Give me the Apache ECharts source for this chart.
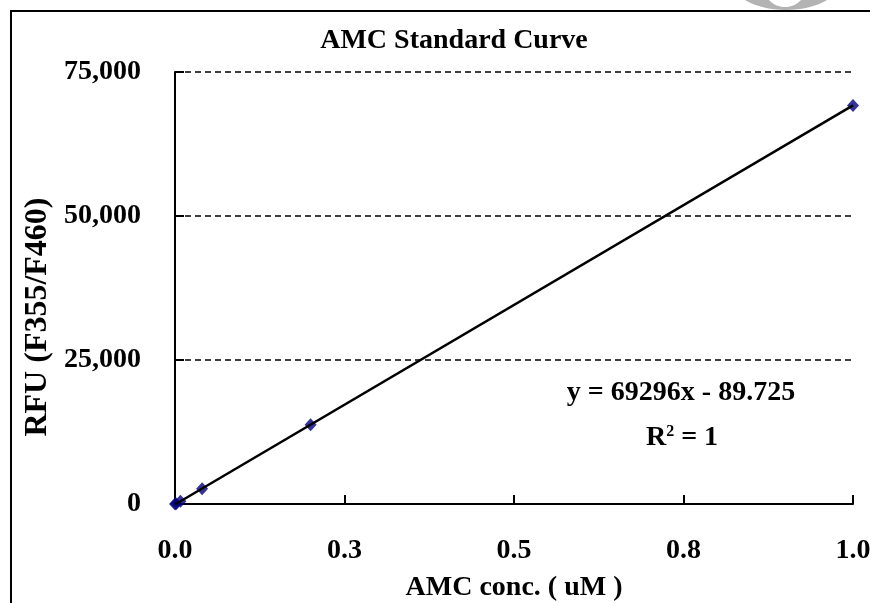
<!DOCTYPE html>
<html>
<head>
<meta charset="utf-8">
<title>AMC Standard Curve</title>
<script src="https://cdn.jsdelivr.net/npm/echarts@6/dist/echarts.min.js"></script>
<style>
  html, body { margin: 0; padding: 0; background: #fff; }
  #chart { width: 870px; height: 603px; }
</style>
</head>
<body>
<div id="chart"></div>
<script>
// standard points
const concentrations = [0, 0.0016, 0.008, 0.04, 0.2, 1.0];
const rfu = [0, 40, 470, 2650, 13750, 69200];
// linear trendline ends: y = 69296x - 89.725
const trendX = [0, 1.0];
const trendY = [-90, 69206];
const xTickLabels = ['0.0', '0.3', '0.5', '0.8', '1.0'];
const yTickLabels = ['0', '25,000', '50,000', '75,000'];

const font = 'Liberation Serif, Times New Roman, serif';
const chart = echarts.init(document.getElementById('chart'));

const option = {
    backgroundColor: '#fff',
    animation: false,
    title: {
        text: 'AMC Standard Curve',
        left: 449,
        top: 22,
        textAlign: 'center',
        textStyle: { fontFamily: font, fontSize: 28, fontWeight: 'bold', color: '#000' }
    },
    grid: { left: 175, right: 17, top: 72, bottom: 99, containLabel: false, outerBoundsMode: 'none' },
    xAxis: {
        type: 'value',
        min: 0,
        max: 1,
        interval: 0.25,
        name: 'AMC conc. ( uM )',
        nameLocation: 'middle',
        nameGap: 70,
        nameTextStyle: { fontFamily: font, fontSize: 28, fontWeight: 'bold', color: '#000' },
        axisLine: { onZero: false, lineStyle: { color: '#000', width: 2 } },
        axisTick: { inside: true, length: 9, lineStyle: { color: '#000', width: 2 } },
        axisLabel: {
            margin: 33,
            fontFamily: font, fontSize: 28, fontWeight: 'bold', color: '#000',
            formatter: v => xTickLabels[Math.round(v / 0.25)]
        },
        splitLine: { show: false }
    },
    yAxis: {
        type: 'value',
        min: 0,
        max: 75000,
        interval: 25000,
        axisLine: { show: true, lineStyle: { color: '#000', width: 2 } },
        axisTick: { show: true, inside: true, length: 9, lineStyle: { color: '#000', width: 2 } },
        axisLabel: {
            margin: 34,
            fontFamily: font, fontSize: 28, fontWeight: 'bold', color: '#000',
            formatter: v => yTickLabels[Math.round(v / 25000)]
        },
        splitLine: { show: true, lineStyle: { color: '#000', width: 1.5, type: [6, 4] } }
    },
    series: [
        {
            name: 'RFU',
            type: 'scatter',
            symbol: 'diamond',
            symbolSize: [12, 13],
            itemStyle: { color: '#000080' },
            data: concentrations.map((c, i) => [c, rfu[i]]),
            z: 3
        },
        {
            name: 'Linear',
            type: 'line',
            showSymbol: false,
            lineStyle: { color: '#000', width: 2.5 },
            data: trendX.map((x, i) => [x, trendY[i]]),
            z: 4
        }
    ],
    graphic: [
        { type: 'ellipse', shape: { cx: 786, cy: -20, rx: 55, ry: 30 }, style: { fill: '#b3b3b3' }, z: 1 },
        { type: 'ellipse', shape: { cx: 785, cy: -20, rx: 24, ry: 27 }, style: { fill: '#fff' }, z: 2 },
        { type: 'rect', shape: { x: 11, y: 11, width: 900, height: 700 }, style: { fill: 'none', stroke: '#000', lineWidth: 2 }, z: 3 },
        {
            type: 'text', x: 38, y: 317, rotation: Math.PI / 2,
            style: { text: 'RFU (F355/F460)', font: 'bold 32px ' + font, fill: '#000', textAlign: 'center', textVerticalAlign: 'middle' }
        },
        {
            type: 'text', x: 681, y: 393,
            style: { text: 'y = 69296x - 89.725', font: 'bold 28px ' + font, fill: '#000', textAlign: 'center', textVerticalAlign: 'middle' }
        },
        {
            type: 'text', x: 682, y: 438,
            style: {
                text: '{b|R}{s|2}{b| = 1}',
                textAlign: 'center', textVerticalAlign: 'middle',
                rich: {
                    b: { fontFamily: font, fontSize: 28, fontWeight: 'bold', color: '#000' },
                    s: { fontFamily: font, fontSize: 16, fontWeight: 'bold', color: '#000', verticalAlign: 'top', padding: [0, 0, 12, 0] }
                }
            }
        }
    ]
};

chart.setOption(option);
</script>
</body>
</html>
